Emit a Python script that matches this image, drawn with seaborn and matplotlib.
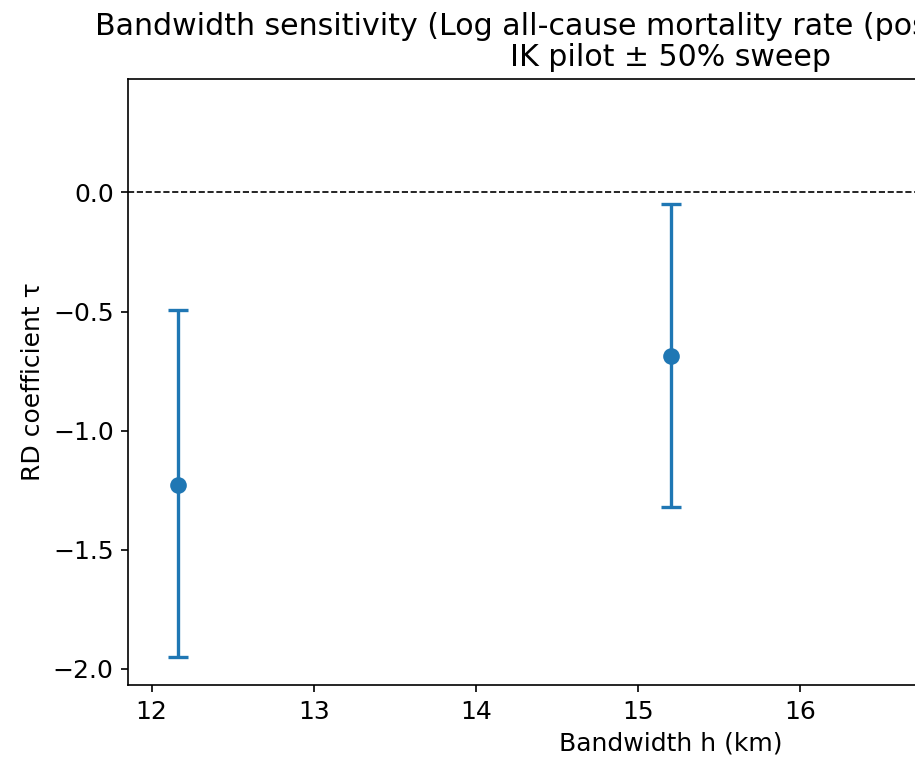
import matplotlib
matplotlib.use("Agg")
import matplotlib.pyplot as plt
import seaborn as sns
import pandas as pd
import numpy as np

# Data
bandwidth_km = [12.16, 15.2, 18.24]
tau = [-1.227, -0.685, -0.24]
ci_low = [-1.953, -1.323, -0.84]
ci_high = [-0.492, -0.047, 0.361]

title_line1 = "Bandwidth sensitivity (Log all-cause mortality rate (post-reform, per capita))"
title_line2 = "IK pilot \u00b1 50% sweep"
x_label = "Bandwidth h (km)"
y_label = "RD coefficient \u03c4"

df = pd.DataFrame({"h": bandwidth_km, "tau": tau, "lo": ci_low, "hi": ci_high})

plt.rcParams["font.size"] = 12
plt.rcParams["font.family"] = ["DejaVu Sans"]

fig = plt.figure(figsize=(915 / 150, 766 / 150), dpi=150)
ax = fig.add_axes([128.3 / 915, 81 / 766, (1212.7 - 128.3) / 915, 606 / 766])

color = "#1f77b4"
yerr = np.vstack([df["tau"] - df["lo"], df["hi"] - df["tau"]])
ax.errorbar(df["h"], df["tau"], yerr=yerr, fmt="none", ecolor=color,
            elinewidth=1.6, capsize=4.6, capthick=1.6)
sns.scatterplot(data=df, x="h", y="tau", ax=ax, color=color, s=64,
                linewidth=0, zorder=3)
ax.axhline(0, color="black", linestyle="--", linewidth=0.8)

ax.set_xlabel(x_label)
ax.set_ylabel(y_label)
ax.set_title(title_line1 + "\n" + title_line2, fontsize=14.4, linespacing=1.1)

fig.savefig("out.png", dpi=150)
